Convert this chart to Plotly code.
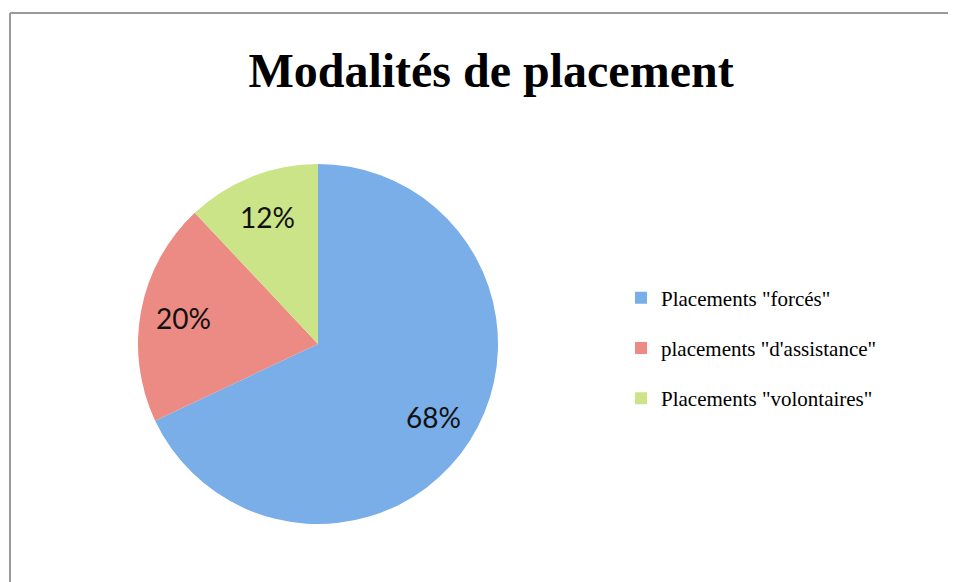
import math
import plotly.graph_objects as go

categories = ['Placements "forcés"', 'placements "d\'assistance"', 'Placements "volontaires"']
values = [68, 20, 12]
colors = ["#7aaee8", "#ec8a84", "#cbe488"]
title_text = "Modalités de placement"

# page body adds an 8px offset, so the figure is drawn at (8, 8)
W, H = 948, 574
cx, cy, r = 310, 336, 180
label_frac = 0.76

fig = go.Figure()
fig.add_trace(go.Pie(
    labels=categories,
    values=values,
    sort=False,
    direction="clockwise",
    rotation=0,
    marker=dict(colors=colors, line=dict(width=0)),
    textinfo="none",
    domain=dict(x=[(cx - r) / W, (cx + r) / W], y=[1 - (cy + r) / H, 1 - (cy - r) / H]),
    showlegend=False,
    hoverinfo="label+percent",
))

# percentage labels placed on each slice's bisector (derived from the values)
annotations = []
total = sum(values)
start = 0.0
for v in values:
    mid = (start + v / 2) / total * 2 * math.pi
    start += v
    px = cx + label_frac * r * math.sin(mid)
    py = cy - label_frac * r * math.cos(mid)
    annotations.append(dict(
        x=px / W, y=1 - py / H, xref="paper", yref="paper",
        text=f"{round(v / total * 100)}%", showarrow=False,
        xanchor="center", yanchor="middle",
        font=dict(family="Lato", size=28, color="#111111"),
    ))

for name, col in zip(categories, colors):
    fig.add_trace(go.Scatter(
        x=[None], y=[None], mode="markers", name=name,
        marker=dict(symbol="square", size=11, color=col),
        legendgroup=name, showlegend=True, hoverinfo="skip",
    ))

fig.update_layout(
    width=W, height=H,
    margin=dict(l=0, r=0, t=0, b=0),
    paper_bgcolor="white", plot_bgcolor="white",
    xaxis=dict(visible=False), yaxis=dict(visible=False),
    title=dict(text="<b>" + title_text + "</b>", x=483 / W, xanchor="center",
               y=1 - 62 / H, yanchor="middle",
               font=dict(family="Liberation Serif", size=48, color="black")),
    legend=dict(x=613 / W, y=1 - 340 / H, xanchor="left", yanchor="middle",
                font=dict(family="Liberation Serif", size=21, color="black"),
                tracegroupgap=20, itemsizing="constant"),
    annotations=annotations,
    shapes=[
        dict(type="line", xref="paper", yref="paper", x0=2 / W, x1=1.02, y0=1 - 5 / H, y1=1 - 5 / H,
             line=dict(color="#9a9a9a", width=2)),
        dict(type="line", xref="paper", yref="paper", x0=2 / W, x1=2 / W, y0=1 - 5 / H, y1=-0.02,
             line=dict(color="#9a9a9a", width=2)),
    ],
)

fig.write_html("out.html")
